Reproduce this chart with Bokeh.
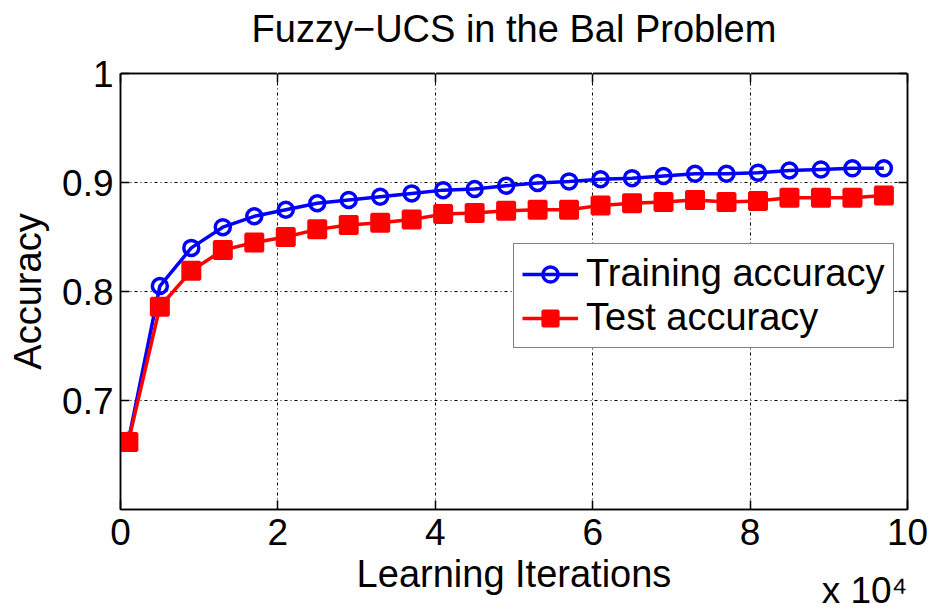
import math
from bokeh.plotting import figure
from bokeh.models import (Range1d, LinearAxis, FixedTicker, CustomJSTickFormatter,
                          Legend, LegendItem, Title)
from bokeh.embed import file_html
from bokeh.resources import INLINE

# ---- data ----
iterations = [0.1, 0.5, 0.9, 1.3, 1.7, 2.1, 2.5, 2.9, 3.3, 3.7, 4.1, 4.5, 4.9,
              5.3, 5.7, 6.1, 6.5, 6.9, 7.3, 7.7, 8.1, 8.5, 8.9, 9.3, 9.7]
training_acc = [0.663, 0.805, 0.840, 0.859, 0.869, 0.875, 0.881, 0.884, 0.887,
                0.890, 0.893, 0.894, 0.897, 0.8995, 0.901, 0.903, 0.904, 0.906,
                0.908, 0.908, 0.909, 0.911, 0.912, 0.913, 0.913]
test_acc = [0.662, 0.786, 0.819, 0.838, 0.845, 0.850, 0.857, 0.861, 0.863,
            0.866, 0.871, 0.872, 0.874, 0.875, 0.875, 0.879, 0.881, 0.882,
            0.884, 0.882, 0.883, 0.886, 0.886, 0.886, 0.888]
x_ticks = [0, 2, 4, 6, 8, 10]
y_ticks = [0.7, 0.8, 0.9, 1.0]
title_text = "Fuzzy\u2212UCS in the Bal Problem"
x_label = "Learning Iterations"
y_label = "Accuracy"
scale_text = "x 10\u2074"

FONT = "Liberation Sans"
FS = "37px"

p = figure(width=930, height=611, output_backend="svg", toolbar_location=None,
           x_range=Range1d(0, 10), y_range=Range1d(0.6, 1.0),
           min_border_left=120, min_border_right=23, min_border_top=73,
           min_border_bottom=102, background_fill_color="white",
           border_fill_color="white")

p.outline_line_color = "black"
p.outline_line_width = 1.5

def style_axis(ax, labels=True):
    ax.axis_line_color = "black"
    ax.axis_line_width = 1.5
    ax.major_tick_in = 9
    ax.major_tick_out = 0
    ax.minor_tick_line_color = None
    ax.major_tick_line_color = "black"
    ax.major_tick_line_width = 1.5
    ax.major_label_text_font = FONT
    ax.major_label_text_font_size = FS
    ax.major_label_text_color = "black" if labels else None
    if not labels:
        ax.major_label_text_font_size = "2px"
        ax.major_label_standoff = 0

fmt = CustomJSTickFormatter(code="return (Math.round(tick*10)/10).toString();")

xa = p.xaxis[0]
xa.ticker = FixedTicker(ticks=x_ticks)
xa.major_label_standoff = 9
xa.axis_label = x_label
xa.axis_label_text_font = FONT
xa.axis_label_text_font_size = "38px"
xa.axis_label_text_font_style = "normal"
xa.axis_label_text_color = "black"
xa.axis_label_standoff = 5
style_axis(xa)

ya = p.yaxis[0]
ya.ticker = FixedTicker(ticks=y_ticks)
ya.formatter = fmt
ya.major_label_standoff = 7
ya.axis_label = y_label
ya.axis_label_text_font = FONT
ya.axis_label_text_font_size = "38px"
ya.axis_label_text_font_style = "normal"
ya.axis_label_text_color = "black"
ya.axis_label_standoff = 10
style_axis(ya)

# inward ticks on the top and right edges
top = LinearAxis(ticker=FixedTicker(ticks=x_ticks))
style_axis(top, labels=False)
p.add_layout(top, "above")
right = LinearAxis(ticker=FixedTicker(ticks=y_ticks))
style_axis(right, labels=False)
p.add_layout(right, "right")

# blank spacer between the plot box and the title (white outward ticks only)
spacer = LinearAxis(ticker=FixedTicker(ticks=x_ticks))
spacer.axis_line_color = None
spacer.minor_tick_line_color = None
spacer.major_tick_line_color = "white"
spacer.major_tick_line_width = 1
spacer.major_tick_in = 0
spacer.major_tick_out = 24
spacer.major_label_text_color = None
spacer.major_label_text_font_size = "2px"
spacer.major_label_standoff = 0
p.add_layout(spacer, "above")

p.title.text = title_text
p.title.text_font = FONT
p.title.text_font_size = "38px"
p.title.text_font_style = "normal"
p.title.text_color = "black"
p.title.align = "center"
p.title.standoff = 0

# "x 10^4" multiplier, right-aligned under the x axis
p.add_layout(Title(text=scale_text, align="right", vertical_align="top",
                   text_font=FONT, text_font_size="37px", text_font_style="normal",
                   text_color="black", standoff=-55), "below")

p.xgrid.ticker = FixedTicker(ticks=x_ticks)
p.ygrid.ticker = FixedTicker(ticks=y_ticks)
for g in (p.xgrid[0], p.ygrid[0]):
    g.grid_line_color = "black"
    g.grid_line_width = 1
    g.grid_line_dash = "1 3 3 3"

bl = p.line(iterations, training_acc, line_color="#0000ff", line_width=3.5)
bc = p.scatter(iterations, training_acc, marker="circle", size=15,
               line_color="#0000ff", line_width=3.5, fill_color=None)
rl = p.line(iterations, test_acc, line_color="#ff0000", line_width=3.5)
rs = p.scatter(iterations, test_acc, marker="square", size=17,
               line_color="#ff0000", line_width=3, fill_color="#ff0000")

legend = Legend(items=[LegendItem(label="Training accuracy", renderers=[bl, bc]),
                       LegendItem(label="Test accuracy", renderers=[rl, rs])],
                location=(393, 161))
legend.label_text_font = FONT
legend.label_text_font_size = "38px"
legend.label_text_color = "black"
legend.glyph_width = 56
legend.glyph_height = 38
legend.label_height = 38
legend.label_standoff = 8
legend.padding = 8
legend.spacing = 1
legend.margin = 0
legend.border_line_color = "black"
legend.border_line_width = 1.5
legend.background_fill_color = "white"
legend.background_fill_alpha = 1
p.add_layout(legend, "center")

open("out.html", "w").write(file_html(p, INLINE))
